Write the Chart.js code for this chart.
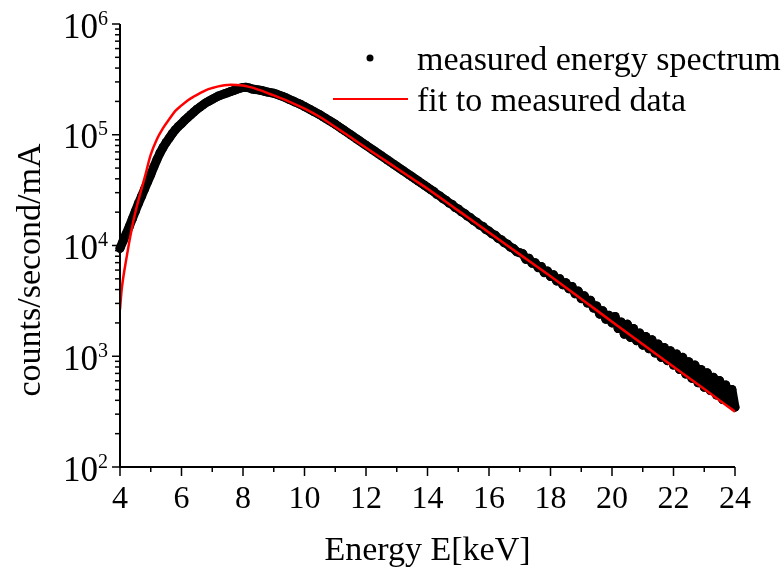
<!DOCTYPE html>
<html>
<head>
<meta charset="utf-8">
<script src="https://cdn.jsdelivr.net/npm/chart.js@4.4.1/dist/chart.umd.min.js"></script>
<style>
  html, body { margin: 0; padding: 0; background: #fff; }
</style>
</head>
<body>
<canvas id="spectrum" width="784" height="573"></canvas>
<script>
// measured spectrum: one value per 0.1 keV channel, starting at 4 keV
const measuredStart = 4.0;
const measuredStep = 0.1;
const measuredCounts = [
  9440, 10960, 12740, 14790, 17380, 20420, 23990, 27860, 32360, 37580,
  43650, 51290, 59570, 68390, 76740, 85110, 93330, 102300, 110900, 118900,
  125900, 134900, 142900, 151400, 160300, 169800, 177800, 186200, 195000, 201800,
  208900, 216300, 223900, 229100, 234400, 239900, 245500, 251200, 257000, 263000,
  267500, 268000, 265000, 259000, 256500, 254100, 251200, 246600, 242700, 239900,
  237100, 231700, 226500, 221300, 215300, 208900, 203200, 197200, 191900, 186200,
  179900, 173800, 167900, 162200, 156700, 151400, 145500, 140000, 134600, 129400,
  124500, 119100, 114000, 109100, 104500, 100000, 95720, 91620, 87700, 83950,
  80350, 76910, 73620, 70470, 67450, 64570, 61800, 59160, 56620, 54200,
  51880, 49660, 47530, 45500, 43550, 41690, 39900, 38190, 36560, 34990,
  33500, 31990, 30760, 29040, 28050, 26550, 25590, 24210, 23440, 22030,
  21380, 20180, 19500, 18410, 17780, 16790, 16220, 15280, 14860, 13960,
  13490, 12740, 12390, 11590, 11270, 10590, 10280, 9660, 9380, 8790,
  8610, 8410, 7500, 7670, 6920, 7000, 6310, 6460, 5690, 5890,
  5250, 5430, 4790, 5010, 4420, 4620, 4070, 4270, 3670, 3890,
  3310, 3510, 3020, 3200, 2720, 2850, 2400, 2570, 2160, 2340,
  2000, 2290, 1780, 2040, 1580, 1950, 1480, 1780, 1380, 1620,
  1260, 1510, 1170, 1410, 1070, 1290, 977, 1200, 912, 1120,
  832, 1050, 759, 977, 692, 891, 631, 832, 575, 759,
  525, 708, 490, 646, 447, 603, 407, 550, 380, 501,
  347
];

// fitted curve
const fitEnergy = [4.0, 4.05, 4.1, 4.2, 4.3, 4.4, 4.5, 4.6, 4.8, 5.0,
  5.2, 5.4, 5.6, 5.8, 6.0, 6.2, 6.4, 6.6, 6.8, 7.0,
  7.2, 7.4, 7.6, 7.8, 8.0, 8.2, 8.4, 8.6, 8.8, 9.0,
  9.5, 10, 10.5, 11, 11.5, 12, 12.5, 13, 13.5, 14,
  15, 16, 17, 18, 19, 20, 21, 22, 23, 24];
const fitCounts = [2630, 3890, 5010, 7410, 10720, 14960, 19950, 25700, 40740, 66070,
  91200, 114800, 138000, 164100, 184100, 204200, 221300, 237100, 252900, 264200,
  273500, 279900, 282500, 281800, 278000, 270400, 261200, 250000, 237700, 226500,
  199500, 171800, 144500, 117500, 94840, 76210, 61660, 49770, 40270, 32580,
  20650, 13120, 8318, 5272, 3296, 2051, 1282, 805, 505, 316];

const xMajorTicks = [4, 6, 8, 10, 12, 14, 16, 18, 20, 22, 24];
const xMinorTicks = [5, 7, 9, 11, 13, 15, 17, 19, 21, 23];
const yDecades = [2, 3, 4, 5, 6];
const yMinorFactors = [2, 3, 4, 5, 6, 7, 8, 9];

const xTitle = "Energy E[keV]";
const yTitle = "counts/second/mA";
const legendLabels = ["measured energy spectrum", "fit to measured data"];

const serif = '"Liberation Serif", "Times New Roman", serif';

const measuredPoints = measuredCounts.map((c, i) => ({
  x: measuredStart + i * measuredStep,
  y: c,
}));
const fitPoints = fitEnergy.map((e, i) => ({ x: e, y: fitCounts[i] }));

// axes, ticks, titles and legend are drawn by hand (superscript labels)
const axesPlugin = {
  id: "axes",
  afterDraw(chart) {
    const { ctx, chartArea: a } = chart;
    const x = chart.scales.x;
    const y = chart.scales.y;

    const seg = (x1, y1, x2, y2) => {
      ctx.beginPath();
      ctx.moveTo(x1, y1);
      ctx.lineTo(x2, y2);
      ctx.stroke();
    };

    ctx.save();
    ctx.strokeStyle = "#000";
    ctx.fillStyle = "#000";

    // ticks
    ctx.lineWidth = 1.5;
    xMajorTicks.forEach((v) => {
      const px = x.getPixelForValue(v);
      seg(px, a.bottom, px, a.bottom + 9);
    });
    xMinorTicks.forEach((v) => {
      const px = x.getPixelForValue(v);
      seg(px, a.bottom, px, a.bottom + 5);
    });
    yDecades.forEach((d) => {
      const py = y.getPixelForValue(Math.pow(10, d));
      seg(a.left - 8, py, a.left, py);
      if (d < yDecades[yDecades.length - 1]) {
        yMinorFactors.forEach((f) => {
          const pm = y.getPixelForValue(f * Math.pow(10, d));
          seg(a.left - 5, pm, a.left, pm);
        });
      }
    });

    // axis lines
    ctx.lineWidth = 2;
    ctx.beginPath();
    ctx.moveTo(a.left, a.top);
    ctx.lineTo(a.left, a.bottom);
    ctx.lineTo(a.right, a.bottom);
    ctx.stroke();

    // x tick labels
    ctx.font = "32px " + serif;
    ctx.textAlign = "center";
    ctx.textBaseline = "alphabetic";
    xMajorTicks.forEach((v) => {
      ctx.fillText(String(v), x.getPixelForValue(v), a.bottom + 41);
    });

    // y tick labels as 10 with superscript exponent
    yDecades.forEach((d) => {
      const py = y.getPixelForValue(Math.pow(10, d));
      ctx.font = "35px " + serif;
      ctx.textAlign = "right";
      ctx.fillText("10", 98, py + 13.5);
      ctx.font = "20px " + serif;
      ctx.textAlign = "left";
      ctx.fillText(String(d), 98, py + 0.5);
    });

    // axis titles
    ctx.font = "34px " + serif;
    ctx.textAlign = "center";
    ctx.fillText(xTitle, (a.left + a.right) / 2, 560);
    ctx.save();
    ctx.translate(40, 270);
    ctx.rotate(-Math.PI / 2);
    ctx.fillText(yTitle, 0, 0);
    ctx.restore();

    // legend
    ctx.beginPath();
    ctx.arc(370, 58, 3.5, 0, Math.PI * 2);
    ctx.fill();
    ctx.strokeStyle = "#ff0000";
    ctx.lineWidth = 2;
    seg(333, 99, 408, 99);
    ctx.textAlign = "left";
    ctx.fillText(legendLabels[0], 417, 70);
    ctx.fillText(legendLabels[1], 417, 111);

    ctx.restore();
  },
};

new Chart(document.getElementById("spectrum"), {
  type: "scatter",
  data: {
    datasets: [
      {
        label: legendLabels[1],
        data: fitPoints,
        showLine: true,
        borderColor: "#ff0000",
        borderWidth: 2.5,
        pointRadius: 0,
        cubicInterpolationMode: "monotone",
        order: 0,
      },
      {
        label: legendLabels[0],
        data: measuredPoints,
        showLine: true,
        borderColor: "#000",
        borderWidth: 9,
        borderJoinStyle: "round",
        borderCapStyle: "round",
        backgroundColor: "#000",
        pointRadius: 4.5,
        pointBorderWidth: 0,
        clip: 8,
        order: 1,
      },
    ],
  },
  options: {
    responsive: false,
    animation: false,
    layout: { padding: { left: 120, right: 49, top: 24, bottom: 106 } },
    scales: {
      x: { type: "linear", min: 4, max: 24, display: false },
      y: { type: "logarithmic", min: 100, max: 1e6, display: false },
    },
    plugins: {
      legend: { display: false },
      tooltip: { enabled: false },
    },
  },
  plugins: [axesPlugin],
});
</script>
</body>
</html>
